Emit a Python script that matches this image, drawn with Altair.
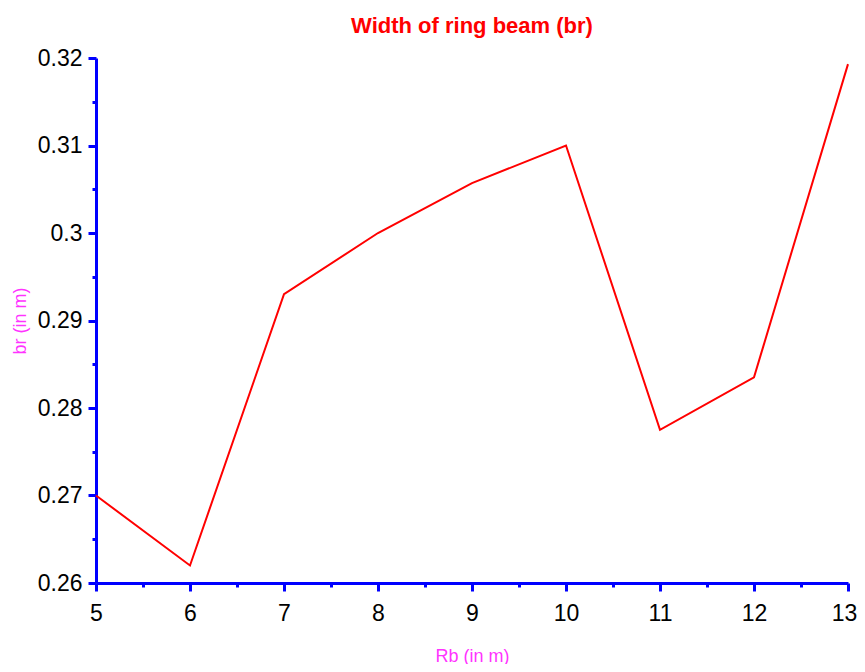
import altair as alt
import pandas as pd

rb = [5, 6, 7, 8, 9, 10, 11, 12, 13]
br = [0.270, 0.262, 0.293, 0.300, 0.3057, 0.310, 0.2775, 0.2835, 0.3193]

x_ticks = [5 + 0.5 * i for i in range(17)]
y_ticks = [round(0.26 + 0.005 * i, 3) for i in range(13)]

df = pd.DataFrame({"Rb": rb, "br": br})

FONT = "Liberation Sans"
BLUE = "#0000ff"
MAG = "#ff33ff"

chart = (
    alt.Chart(df)
    .mark_line(color="#ff0000", strokeWidth=2)
    .encode(
        x=alt.X(
            "Rb:Q",
            scale=alt.Scale(domain=[5, 13], nice=False, zero=False),
            axis=alt.Axis(
                values=x_ticks,
                title="Rb (in m)",
                titleColor=MAG,
                titleFont=FONT,
                titleFontSize=18,
                titleFontWeight="normal",
                titleX=376,
                titleY=64,
                labelExpr="datum.value % 1 == 0 ? format(datum.value, 'd') : ''",
                labelFont=FONT,
                labelFontSize=23,
                labelColor="#000000",
                labelPadding=11,
                labelFlush=False,
                labelOverlap=False,
                labelOffset={"condition": {"test": "datum.value == 13", "value": -4}, "value": 0},
                domainColor=BLUE,
                domainWidth=3,
                tickColor=BLUE,
                tickWidth=3,
                tickSize={"condition": {"test": "datum.value % 1 == 0", "value": 8}, "value": 4},
                grid=False,
            ),
        ),
        y=alt.Y(
            "br:Q",
            scale=alt.Scale(domain=[0.26, 0.32], nice=False, zero=False),
            axis=alt.Axis(
                values=y_ticks,
                title="br (in m)",
                titleColor=MAG,
                titleFont=FONT,
                titleFontSize=18,
                titleFontWeight="normal",
                titleX=-67,
                titleY=262.5,
                labelExpr="round(datum.value * 1000) % 10 == 0 ? format(datum.value, '.2~f') : ''",
                labelFont=FONT,
                labelFontSize=23,
                labelColor="#000000",
                labelPadding=6,
                labelFlush=False,
                labelOverlap=False,
                domainColor=BLUE,
                domainWidth=3,
                tickColor=BLUE,
                tickWidth=3,
                tickSize={"condition": {"test": "round(datum.value * 1000) % 10 == 0", "value": 8}, "value": 4},
                grid=False,
            ),
        ),
    )
    .properties(
        width=752,
        height=525,
        background="white",
        title=alt.TitleParams(
            "Width of ring beam (br)",
            color="#ff0000",
            font=FONT,
            fontSize=22,
            fontWeight="bold",
            anchor="middle",
            dy=-5,
        ),
        autosize=alt.AutoSizeParams(type="none"),
        padding={"left": 88, "top": 50, "right": 9, "bottom": 81},
    )
    .configure_view(strokeWidth=0, stroke="transparent")
)

chart.save("out.html", embed_options={"renderer": "svg", "actions": False})
